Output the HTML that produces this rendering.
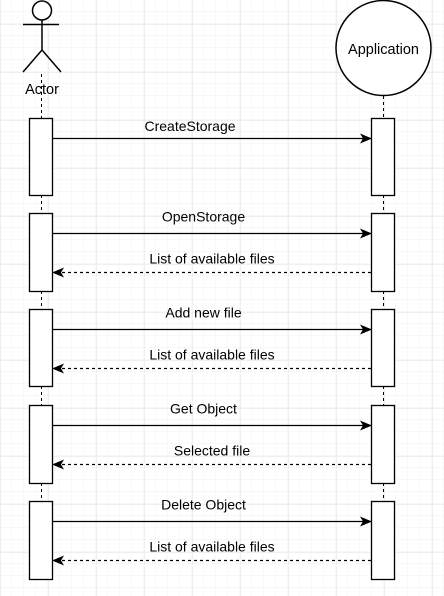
<!DOCTYPE html>
<html><head><meta charset="utf-8"><style>
html,body{margin:0;padding:0;background:#fff}
svg{display:block}
text{font-family:"Liberation Sans",Arial,sans-serif;font-size:14px;fill:#000}
</style></head><body>
<svg id="d" width="444" height="596" viewBox="0 0 444 596">
<defs>
<pattern id="minor" width="12" height="12" patternUnits="userSpaceOnUse" x="0" y="0"><path d="M12 0V12M0 12H12" stroke="#f2f2f2" stroke-width="1" fill="none"/></pattern>
<pattern id="major" width="48" height="48" patternUnits="userSpaceOnUse" x="0.5" y="24.5"><path d="M0 0V48M0 0H48" stroke="#e2e2e2" stroke-width="1" fill="none"/></pattern>
<marker id="ah" viewBox="0 0 12 10" refX="11" refY="5" markerWidth="12" markerHeight="10" markerUnits="userSpaceOnUse" orient="auto"><path d="M0 0L12 5L0 10L3 5Z" fill="#000"/></marker>
</defs>
<rect width="444" height="596" fill="url(#minor)"/>
<rect width="444" height="596" fill="url(#major)"/>
<g stroke="#000" stroke-width="1.5" fill="none">
<circle cx="42" cy="10.5" r="9.5" fill="#fff"/>
<path d="M23 24.5H59M42 20V50M42 50L23 72M42 50L61 72"/>
</g>
<text x="42" y="94" text-anchor="middle" style="font-size:14.5px">Actor</text>
<circle cx="383.5" cy="48" r="47.5" fill="#fff" stroke="#000" stroke-width="1.5"/>
<text x="383.5" y="54" text-anchor="middle" style="font-size:14.5px">Application</text>
<g id="life" stroke="#000" stroke-width="1" stroke-dasharray="3,3"></g>
<g id="boxes"></g>
<g id="msgs"></g>
</svg>
<script>
const boxTops=[118,213,309,405,501];
const boxBottoms=[195,291,386,483,579];
const callLabels=["CreateStorage","OpenStorage","Add new file","Get Object","Delete Object"];
const returnLabels=[null,"List of available files","List of available files","Selected file","List of available files"];
const NS="http://www.w3.org/2000/svg";
const AX=41.5,PX=383.5;
function mk(t,a,p){const e=document.createElementNS(NS,t);for(const k in a)e.setAttribute(k,a[k]);p.appendChild(e);return e;}
const life=document.getElementById('life'),boxes=document.getElementById('boxes'),msgs=document.getElementById('msgs');
mk('line',{x1:AX,y1:74,x2:AX,y2:boxTops[0]},life);
mk('line',{x1:PX,y1:96,x2:PX,y2:boxTops[0]},life);
for(let i=1;i<boxTops.length;i++){
 mk('line',{x1:AX,y1:boxBottoms[i-1],x2:AX,y2:boxTops[i]},life);
 mk('line',{x1:PX,y1:boxBottoms[i-1],x2:PX,y2:boxTops[i]},life);
}
boxTops.forEach((t,i)=>{
 const h=boxBottoms[i]-t;
 const a=mk('rect',{x:29.5,y:t+0.5,width:23,height:h,fill:'#fff',stroke:'#000','stroke-width':1.3},boxes);
 
 
 const b=mk('rect',{x:371.5,y:t+0.5,width:23,height:h,fill:'#fff',stroke:'#000','stroke-width':1.3},boxes);
 
 
 const cy=t+20.5;
 const l=mk('line',{x1:53,y1:cy,x2:371,y2:cy,stroke:'#000','stroke-width':1.3,'marker-end':'url(#ah)'},msgs);
 
 
 const first=(i===0);
 const tx=mk('text',{x:first?190:203.5,y:first?t+13:t+8.5,'text-anchor':'middle'},msgs);
 tx.textContent=callLabels[i];
 
 
 if(returnLabels[i]){
  const ry=t+59.5;
  const r=mk('line',{x1:371,y1:ry,x2:53,y2:ry,stroke:'#000','stroke-width':1.3,'stroke-dasharray':'3,3','marker-end':'url(#ah)'},msgs);
  
  
  const rt=mk('text',{x:212,y:t+50.5,'text-anchor':'middle'},msgs);
  rt.textContent=returnLabels[i];
  
  
 }
});
</script>
</body></html>
